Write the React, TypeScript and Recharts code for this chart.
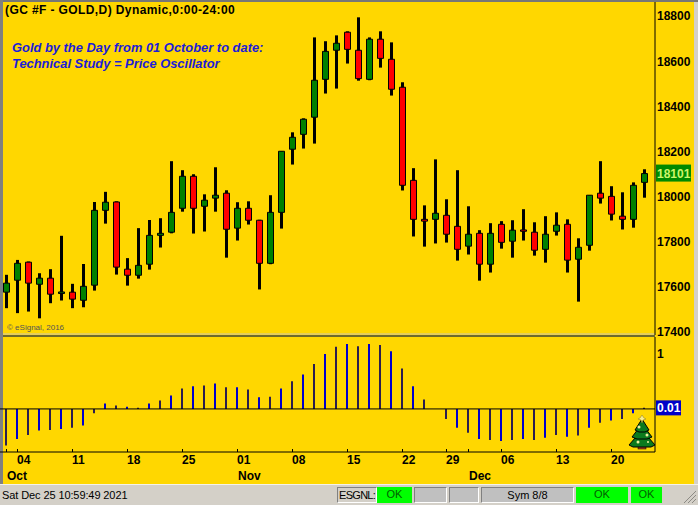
import { FC } from "react"
import { Bar, Cell, ComposedChart, ReferenceLine, XAxis, YAxis } from "recharts"

const dates: string[] = [
	"Oct 01", "Oct 04", "Oct 05", "Oct 06", "Oct 07", "Oct 08", "Oct 11", "Oct 12", "Oct 13", "Oct 14", "Oct 15",
	"Oct 18", "Oct 19", "Oct 20", "Oct 21", "Oct 22", "Oct 25", "Oct 26", "Oct 27", "Oct 28", "Oct 29",
	"Nov 01", "Nov 02", "Nov 03", "Nov 04", "Nov 05", "Nov 08", "Nov 09", "Nov 10", "Nov 11", "Nov 12",
	"Nov 15", "Nov 16", "Nov 17", "Nov 18", "Nov 19", "Nov 22", "Nov 23", "Nov 24", "Nov 26",
	"Nov 29", "Nov 30", "Dec 01", "Dec 02", "Dec 03", "Dec 06", "Dec 07", "Dec 08", "Dec 09", "Dec 10",
	"Dec 13", "Dec 14", "Dec 15", "Dec 16", "Dec 17", "Dec 20", "Dec 21", "Dec 22", "Dec 23",
]

const opens: number[] = [
	17575, 17628, 17708, 17610, 17637, 17569, 17575, 17539, 17606, 17938, 17975,
	17677, 17650, 17699, 17827, 17841, 17947, 18089, 17956, 17992, 18014,
	17859, 17947, 17894, 17703, 17929, 18209, 18275, 18351, 18519, 18648,
	18728, 18648, 18519, 18697, 18608, 18484, 18071, 17898, 17898,
	17916, 17867, 17779, 17836, 17699, 17876, 17801, 17851, 17841, 17765,
	17845, 17876, 17721, 17783, 18014, 18000, 17912, 17898, 18062,
]
const closes: number[] = [
	17615, 17703, 17615, 17637, 17566, 17576, 17544, 17601, 17938, 17974, 17686,
	17650, 17694, 17827, 17836, 17929, 18089, 17947, 17983, 18005, 17854,
	17947, 17894, 17703, 17929, 18200, 18262, 18342, 18515, 18643, 18679,
	18652, 18522, 18697, 18612, 18475, 18049, 17898, 17890, 17925,
	17832, 17765, 17832, 17699, 17836, 17796, 17850, 17845, 17761, 17832,
	17872, 17717, 17774, 18005, 17992, 17921, 17898, 18049, 18101,
]
const highs: number[] = [
	17652, 17718, 17711, 17659, 17677, 17825, 17612, 17700, 17975, 18020, 17978,
	17726, 17859, 17895, 17903, 18156, 18116, 18098, 18009, 18129, 18027,
	17974, 17978, 17896, 18005, 18200, 18284, 18346, 18705, 18688, 18714,
	18732, 18794, 18705, 18732, 18683, 18506, 18125, 17960, 18164,
	17987, 18116, 17956, 17850, 17881, 17890, 17894, 17943, 17885, 17912,
	17929, 17898, 17814, 18005, 18156, 18045, 18018, 18062, 18120,
]
const lows: number[] = [
	17504, 17482, 17489, 17459, 17526, 17538, 17504, 17508, 17582, 17879, 17653,
	17604, 17635, 17675, 17773, 17836, 17932, 17835, 17844, 17932, 17728,
	17804, 17875, 17587, 17699, 17857, 18141, 18212, 18234, 18456, 18478,
	18589, 18513, 18515, 18571, 18447, 18026, 17822, 17777, 17791,
	17795, 17715, 17742, 17626, 17662, 17768, 17728, 17804, 17737, 17706,
	17826, 17662, 17533, 17759, 17968, 17893, 17853, 17861, 17994,
]

const oscillator: number[] = [
	-0.66, -0.54, -0.47, -0.39, -0.38, -0.36, -0.34, -0.30, -0.08, 0.10, 0.06,
	0.04, 0.02, 0.10, 0.15, 0.24, 0.37, 0.41, 0.42, 0.46, 0.39,
	0.39, 0.35, 0.21, 0.22, 0.37, 0.50, 0.62, 0.81, 0.99, 1.12,
	1.17, 1.13, 1.17, 1.15, 1.04, 0.73, 0.41, 0.17, 0,
	-0.18, -0.34, -0.43, -0.54, -0.56, -0.58, -0.56, -0.54, -0.56, -0.52,
	-0.47, -0.50, -0.48, -0.34, -0.25, -0.21, -0.18, -0.08, 0.02,
]

const priceTicks: number[] = [17400, 17600, 17800, 18000, 18101, 18200, 18400, 18600, 18800]
const oscTicks: number[] = [0.01, 1]
const tickDates: string[] = [
	"Oct 01", "Oct 04", "Oct 11", "Oct 18", "Oct 25", "Nov 01", "Nov 08", "Nov 15", "Nov 22", "Nov 29", "Dec 01", "Dec 06", "Dec 13", "Dec 20",
]
const monthStarts: string[] = ["Oct 01", "Nov 01", "Dec 01"]
const unlabelledDays: string[] = ["Oct 01", "Dec 01"]

const candles = dates.map((date, i) => ({
	date,
	wick: [lows[i], highs[i]],
	body: [opens[i], closes[i]],
	up: closes[i] >= opens[i],
}))
const oscData = dates.map((date, i) => ({ date, osc: oscillator[i] }))

const FONT = '"Liberation Sans", Arial, sans-serif'
const YELLOW = "#FFD700"
const GRAY = "#D4D0C8"

const PriceTick: FC<any> = ({ x, y, payload }) => {
	if (payload.value === 18101) {
		return (
			<g>
				<rect x={x + 1} y={y - 9} width={35} height={17} fill="#008A00" />
				<text x={x + 2} y={y + 4.5} fontFamily={FONT} fontWeight="bold" fontSize={12} fill="#CDF56A">18101</text>
			</g>
		)
	}
	return <text x={x + 2} y={y + 4.5} fontFamily={FONT} fontWeight="bold" fontSize={12} fill="#000">{payload.value}</text>
}

const OscTick: FC<any> = ({ x, y, payload }) => {
	if (payload.value === 0.01) {
		return (
			<g>
				<rect x={x + 1} y={y - 8} width={25} height={15} fill="#0000C8" />
				<text x={x + 2} y={y + 4} fontFamily={FONT} fontWeight="bold" fontSize={12} fill="#fff">0.01</text>
			</g>
		)
	}
	return <text x={x + 2} y={y + 4.5} fontFamily={FONT} fontWeight="bold" fontSize={12} fill="#000">{payload.value}</text>
}

const DateTick: FC<any> = ({ x, payload }) => {
	const value: string = payload.value
	const axisY = 115
	return (
		<g fontFamily={FONT} fontWeight="bold" fontSize={12} fill="#000">
			<line x1={x + 1} x2={x + 1} y1={axisY - 2} y2={axisY + 1} stroke="#000" />
			{!unlabelledDays.includes(value) && <text x={x + 0.5} y={axisY + 13}>{value.slice(4)}</text>}
			{monthStarts.includes(value) && <text x={x + 1.5} y={axisY + 29}>{value.slice(0, 3)}</text>}
		</g>
	)
}

const Tree: FC = () => (
	<svg width={30} height={36} style={{ position: "absolute", left: 627, top: 415 }}>
		<rect x={11} y={30} width={8} height={4} fill="#A8401C" stroke="#000" strokeWidth={0.5} />
		<polygon points="15,15 28,30 24,32 6,32 2,30" fill="#0B7A1E" stroke="#000" />
		<polygon points="15,9 25,22 20,24 10,24 5,22" fill="#0B7A1E" stroke="#000" />
		<polygon points="15,4 22,15 18,17 12,17 8,15" fill="#0B7A1E" stroke="#000" />
		<polygon points="15,0 17,3 19,4 16,5 15,8 14,5 11,4 13,3" fill="#F8EC90" stroke="#8a7a20" strokeWidth={0.5} />
		<circle cx={12} cy={12} r={1.5} fill="#F0F0A0" />
		<circle cx={20} cy={20} r={1.5} fill="#F0F0A0" />
		<circle cx={11} cy={27} r={1.5} fill="#F0F0A0" />
		<circle cx={21} cy={27} r={1} fill="#F0F0A0" />
	</svg>
)

const Box: FC<{ left: number; width: number; bg: string; text?: string; align?: "left" | "center" }> = ({ left, width, bg, text, align = "center" }) => (
	<div style={{
		position: "absolute", left, top: 487, width, height: 16, boxSizing: "border-box",
		background: bg, border: bg === "#00FF00" ? "none" : "1px solid #808080", borderRightColor: "#fff", borderBottomColor: "#fff",
		font: `11px ${FONT}`, textAlign: align, lineHeight: "15px", color: bg === "#00FF00" ? "#006000" : "#000", paddingLeft: align === "left" ? 1 : 0,
		letterSpacing: align === "left" ? -0.7 : 0, whiteSpace: "nowrap",
	}}>{text}</div>
)

const App: FC = () => {
	return (
		<div style={{ position: "absolute", left: 0, top: 0, width: 698, height: 505, background: GRAY, overflow: "hidden" }}>
			<div style={{ position: "absolute", left: 3, top: 2, width: 691, height: 482, background: YELLOW }} />
			<div style={{ position: "absolute", left: 0, top: 484, width: 698, height: 1, background: "#F4F2EA" }} />
			<div style={{ position: "absolute", left: 0, top: 0, width: 698, height: 2, background: "#777" }} />
			<div style={{ position: "absolute", left: 0, top: 0, width: 3, height: 484, background: "#808080" }} />
			<div style={{ position: "absolute", left: 3, top: 333, width: 652, height: 2, background: "#E6CE5A" }} />
			<div style={{ position: "absolute", left: 3, top: 335, width: 652, height: 2, background: "#6E6A2A" }} />

			<div style={{ position: "absolute", left: 0, top: 0 }}>
				<ComposedChart width={698} height={342} data={candles} margin={{ top: 2, right: 0, bottom: 7, left: 0 }}>
					<XAxis dataKey="date" xAxisId="wick" hide padding={{ left: 1, right: 5 }} />
					<XAxis dataKey="date" xAxisId="body" hide padding={{ left: 0.5, right: 5.5 }} />
					<YAxis
						orientation="right"
						width={43}
						domain={[17385, 18862]}
						allowDataOverflow
						ticks={priceTicks}
						interval={0}
						tick={<PriceTick />}
						tickLine={false}
						tickSize={0}
						tickMargin={0}
						axisLine={{ stroke: "#000" }}
					/>
					<Bar dataKey="wick" xAxisId="wick" barSize={3} fill="#000" isAnimationActive={false} />
					<Bar dataKey="body" xAxisId="body" barSize={6} stroke="#000" strokeWidth={1} isAnimationActive={false}>
						{candles.map((c, index) => (
							<Cell key={`cell-${index}`} fill={c.up ? "#008000" : "#FF0000"} />
						))}
					</Bar>
				</ComposedChart>
			</div>

			<div style={{ position: "absolute", left: 0, top: 336 }}>
				<ComposedChart width={698} height={148} data={oscData} margin={{ top: 1, right: 0, bottom: 0, left: 0 }}>
					<XAxis
						dataKey="date"
						padding={{ left: 0, right: 6 }}
						height={32}
						ticks={tickDates}
						interval={0}
						tick={<DateTick />}
						tickLine={false}
						axisLine={{ stroke: "#000" }}
					/>
					<YAxis
						orientation="right"
						width={43}
						domain={[-0.776, 1.296]}
						allowDataOverflow
						ticks={oscTicks}
						interval={0}
						tick={<OscTick />}
						tickLine={false}
						tickSize={0}
						tickMargin={0}
						axisLine={{ stroke: "#000" }}
					/>
					<ReferenceLine y={0} stroke="#000" />
					<Bar dataKey="osc" barSize={2} isAnimationActive={false}>
						{oscData.map((_, index) => (
							<Cell key={`osc-${index}`} fill={index % 2 === 0 ? "#2B1D4F" : "#0000CC"} />
						))}
					</Bar>
				</ComposedChart>
			</div>

			<div style={{ position: "absolute", left: 5, top: 3, font: `bold 12px ${FONT}`, letterSpacing: 0.4, color: "#000", whiteSpace: "nowrap" }}>(GC #F - GOLD,D) Dynamic,0:00-24:00</div>
			<div style={{ position: "absolute", left: 12, top: 40, font: `italic bold 12.9px/16px ${FONT}`, color: "#1C1CD8", whiteSpace: "nowrap" }}>
				Gold by the Day from 01 October to date:<br />Technical Study = Price Oscillator
			</div>
			<div style={{ position: "absolute", left: 7, top: 323, font: `8px ${FONT}`, color: "#555", whiteSpace: "nowrap" }}>© eSignal, 2016</div>

			<Tree />

			<div style={{ position: "absolute", left: 2, top: 489, font: `11px ${FONT}`, letterSpacing: -0.1, color: "#000", whiteSpace: "nowrap" }}>Sat Dec 25 10:59:49 2021</div>
			<Box left={337} width={40} bg={GRAY} text="ESGNL:" align="left" />
			<Box left={377} width={35} bg="#00FF00" text="OK" />
			<Box left={414} width={33} bg="#C0C0C0" />
			<Box left={449} width={30} bg="#C0C0C0" />
			<Box left={481} width={93} bg="#C0C0C0" text="Sym 8/8" />
			<Box left={576} width={52} bg="#00FF00" text="OK" />
			<Box left={631} width={31} bg="#00FF00" text="OK" />

			<svg width={16} height={16} style={{ position: "absolute", left: 681, top: 488 }} stroke="#8C8A84">
				<line x1={3} y1={15} x2={15} y2={3} />
				<line x1={7} y1={15} x2={15} y2={7} />
				<line x1={11} y1={15} x2={15} y2={11} />
			</svg>
		</div>
	)
}

export default App
